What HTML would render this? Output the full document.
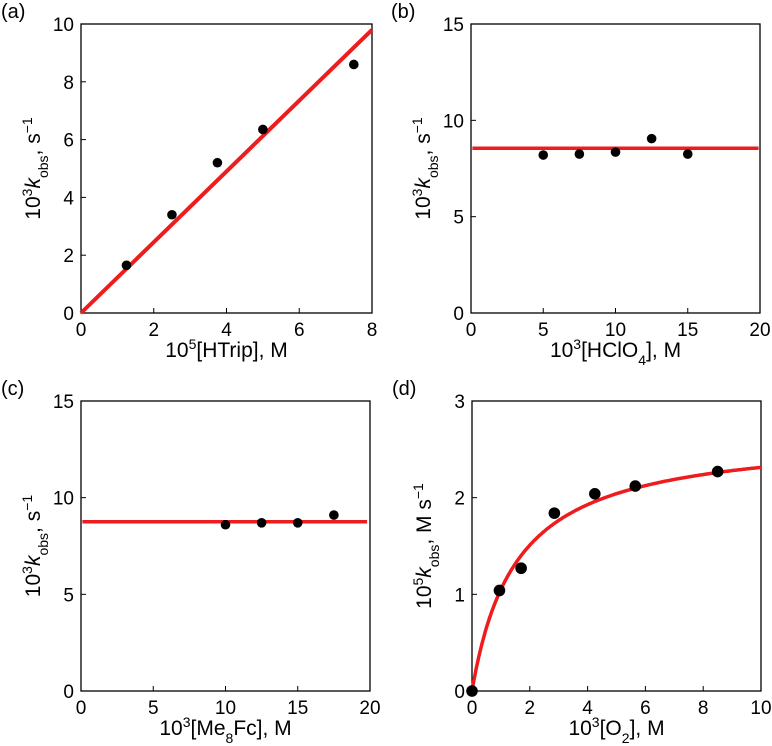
<!DOCTYPE html>
<html><head><meta charset="utf-8"><style>
body{margin:0;background:#fff}
svg{display:block;font-family:"Liberation Sans",sans-serif}
</style></head><body>
<svg id="fig" width="772" height="746" viewBox="0 0 772 746"></svg>
<script>
const aX=[1.25,2.5,3.75,5,7.5];
const aY=[1.65,3.4,5.2,6.35,8.6];
const aSlope=1.225;
const bX=[5,7.5,10,12.5,15];
const bY=[8.2,8.25,8.35,9.05,8.25];
const bFit=8.55;
const cX=[10,12.5,15,17.5];
const cY=[8.6,8.7,8.7,9.1];
const cFit=8.75;
const dX=[0,0.95,1.7,2.85,4.25,5.65,8.5];
const dY=[0,1.04,1.27,1.84,2.04,2.12,2.27];
const dVmax=2.67, dK=1.54;
const aXT=[0,2,4,6,8], aYT=[0,2,4,6,8,10];
const bXT=[0,5,10,15,20], bYT=[0,5,10,15];
const dXT=[0,2,4,6,8,10], dYT=[0,1,2,3];

const NS="http://www.w3.org/2000/svg";
const svg=document.getElementById('fig');
function mk(t,a,p){const e=document.createElementNS(NS,t);for(const k in a)e.setAttribute(k,a[k]);(p||svg).appendChild(e);return e;}

function panel(o){
  const g=mk('g',{});
  
  
  const sx=v=>o.x0+(v-o.xmin)/(o.xmax-o.xmin)*(o.x1-o.x0);
  const sy=v=>o.y0-(v-o.ymin)/(o.ymax-o.ymin)*(o.y0-o.y1);
  const lab=mk('text',{x:o.x0-80,y:o.y1-6,'font-size':20},g);lab.textContent='('+o.id+')';
  
  
  const fr=mk('rect',{x:o.x0,y:o.y1,width:o.x1-o.x0,height:o.y0-o.y1,fill:'none',stroke:'#000','stroke-width':1.3},g);
  
  
  o.xt.forEach(v=>{
    mk('line',{x1:sx(v),x2:sx(v),y1:o.y0,y2:o.y0-5,stroke:'#000','stroke-width':1},g);
    const t=mk('text',{x:sx(v),y:o.y0+23,'text-anchor':'middle','font-size':19},g);t.textContent=v;
    
    
  });
  o.yt.forEach(v=>{
    mk('line',{x1:o.x0,x2:o.x0+5,y1:sy(v),y2:sy(v),stroke:'#000','stroke-width':1},g);
    const t=mk('text',{x:o.x0-7,y:sy(v)+7,'text-anchor':'end','font-size':19},g);t.textContent=v;
    
    
  });
  const xl=mk('text',{x:(o.x0+o.x1)/2,y:o.y0+44,'text-anchor':'middle','font-size':21},g);
  xl.innerHTML=o.xlab;
  
  
  const yl=mk('text',{transform:`translate(${o.x0-41},${(o.y0+o.y1)/2}) rotate(-90)`,'text-anchor':'middle','font-size':21},g);
  yl.innerHTML=o.ylab;
  
  
  let d='';
  o.curve.forEach((p,i)=>{d+=(i?'L':'M')+sx(p[0]).toFixed(1)+','+sy(p[1]).toFixed(1);});
  const fl=mk('path',{d:d,fill:'none',stroke:'#ee1c1c','stroke-width':o.lw},g);
  
  
  o.xs.forEach((v,i)=>{
    const c=mk('circle',{cx:sx(v),cy:sy(o.ys[i]),r:o.r,fill:'#000'},g);
    
    
  });
}
const SUP=s=>'<tspan baseline-shift="super" font-size="14">'+s+'</tspan>';
const SUB=s=>'<tspan baseline-shift="sub" font-size="14">'+s+'</tspan>';
const kl='10'+SUP('3')+'<tspan font-style="italic">k</tspan>'+SUB('obs')+'<tspan>, s</tspan>'+SUP('−1');
panel({id:'a',x0:81,x1:372,y0:313,y1:24,xmin:0,xmax:8,ymin:0,ymax:10,xt:aXT,yt:aYT,
  xlab:'10'+SUP('5')+'<tspan>[HTrip], M</tspan>',ylab:kl,
  curve:[[0,0],[8,8*aSlope]],lw:4,r:4.8,xs:aX,ys:aY});
panel({id:'b',x0:471,x1:760,y0:313,y1:24,xmin:0,xmax:20,ymin:0,ymax:15,xt:bXT,yt:bYT,
  xlab:'10'+SUP('3')+'<tspan>[HClO</tspan>'+SUB('4')+'<tspan>], M</tspan>',ylab:kl,
  curve:[[0.1,bFit],[19.9,bFit]],lw:3.5,r:4.8,xs:bX,ys:bY});
panel({id:'c',x0:81,x1:370,y0:691,y1:401,xmin:0,xmax:20,ymin:0,ymax:15,xt:bXT,yt:bYT,
  xlab:'10'+SUP('3')+'<tspan>[Me</tspan>'+SUB('8')+'<tspan>Fc], M</tspan>',ylab:kl,
  curve:[[0.1,cFit],[19.8,cFit]],lw:3.5,r:4.8,xs:cX,ys:cY});
const dc=[];for(let i=0;i<=200;i++){const x=10*i/200;dc.push([x,dVmax*x/(dK+x)]);}
panel({id:'d',x0:472,x1:761,y0:691,y1:401,xmin:0,xmax:10,ymin:0,ymax:3,xt:dXT,yt:dYT,
  xlab:'10'+SUP('3')+'<tspan>[O</tspan>'+SUB('2')+'<tspan>], M</tspan>',
  ylab:'10'+SUP('5')+'<tspan font-style="italic">k</tspan>'+SUB('obs')+'<tspan>, M s</tspan>'+SUP('−1'),
  curve:dc,lw:3.5,r:5.8,xs:dX,ys:dY});
</script>
</body></html>
